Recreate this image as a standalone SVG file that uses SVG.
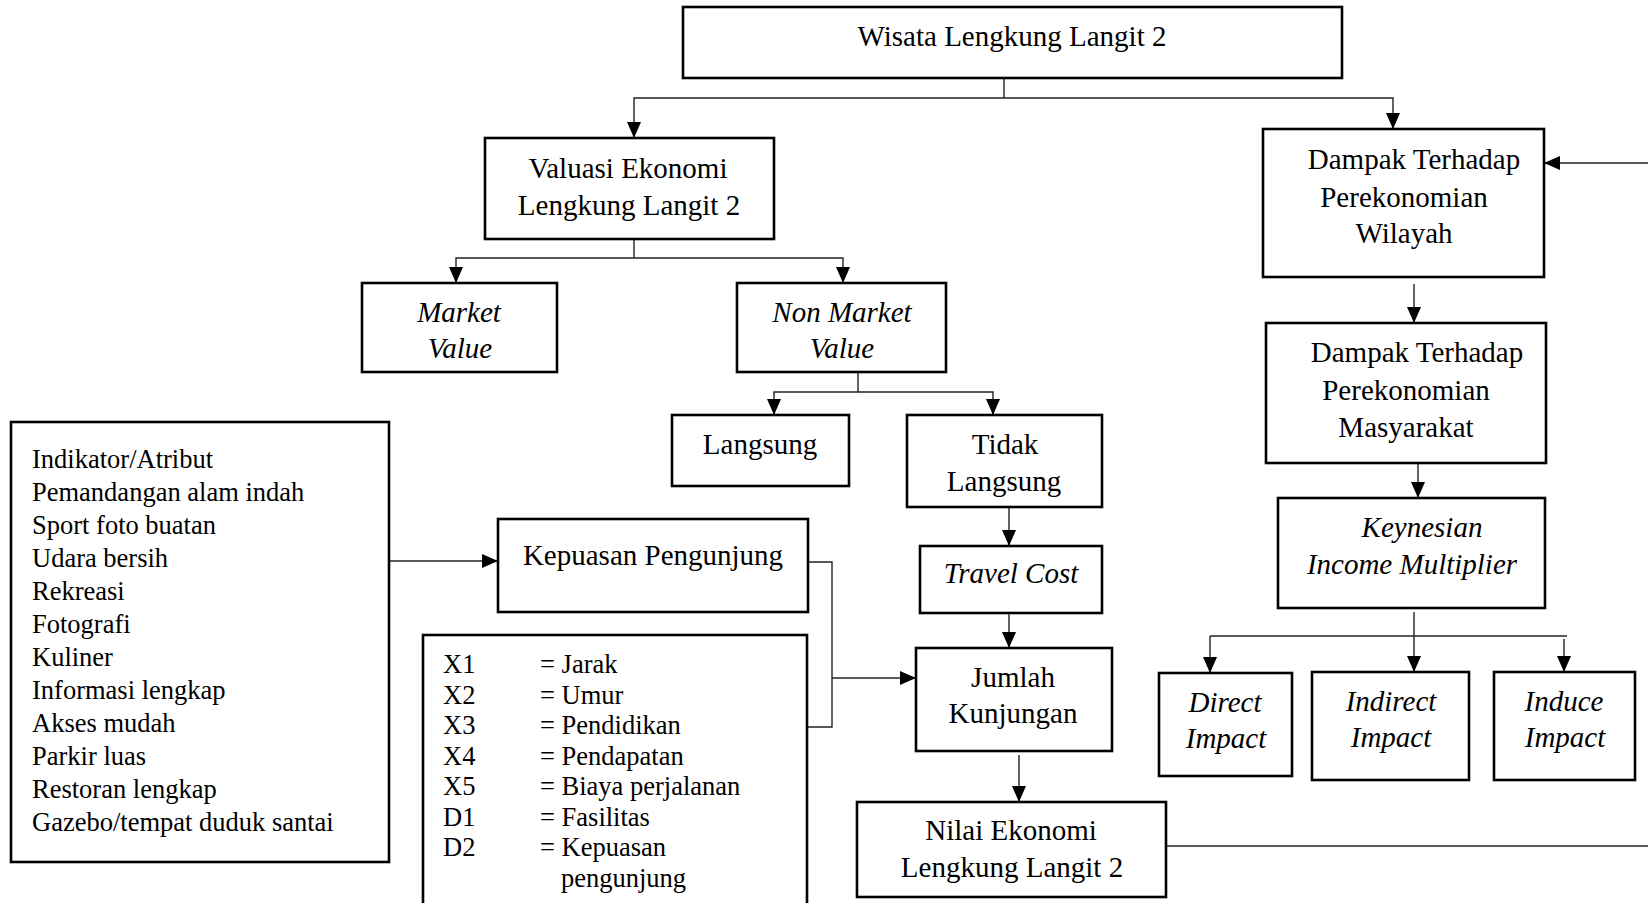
<svg xmlns="http://www.w3.org/2000/svg" width="1648" height="903" viewBox="0 0 1648 903">
<style>
.box{fill:#fff;stroke:#000;stroke-width:2.6}
.t{font-family:"Liberation Serif","Times New Roman",serif;font-size:29px;fill:#000;text-anchor:middle}
.i{font-style:italic}
.s{font-family:"Liberation Serif","Times New Roman",serif;font-size:26.5px;fill:#000}
.c{fill:none;stroke:#222;stroke-width:1.4}
.a{marker-end:url(#arr)}
</style>
<defs>
<marker id="arr" viewBox="0 0 16 14" refX="16" refY="7" markerWidth="16" markerHeight="14" markerUnits="userSpaceOnUse" orient="auto">
<path d="M0,0 L16,7 L0,14 z" fill="#000"/>
</marker>
</defs>
<rect width="1648" height="903" fill="#fff"/>
<g id="connectors">
<path class="c" d="M1004,78 V98"/>
<path class="c a" d="M1004,98 H634 V138"/>
<path class="c a" d="M1004,98 H1393 V129"/>
<path class="c" d="M634,239 V258"/>
<path class="c a" d="M634,258 H456 V283"/>
<path class="c a" d="M634,258 H843 V283"/>
<path class="c a" d="M858,372 V392 H774 V415"/>
<path class="c a" d="M858,392 H993 V415"/>
<path class="c a" d="M1009,507 V546"/>
<path class="c a" d="M1009,613 V648"/>
<path class="c a" d="M1019,755 V802"/>
<path class="c a" d="M389,561 H498"/>
<path class="c" d="M808,562 H832 V727 H808"/>
<path class="c a" d="M832,678 H916"/>
<path class="c" d="M1166,846 H1648"/>
<path class="c a" d="M1648,163 H1544"/>
<path class="c a" d="M1414,284 V323"/>
<path class="c a" d="M1418,463 V498"/>
<path class="c a" d="M1414,612 V672"/>
<path class="c" d="M1210,636 H1567"/>
<path class="c a" d="M1210,636 V673"/>
<path class="c a" d="M1564,639 V672"/>
</g>
<g id="wisata">
<rect class="box" x="683" y="7" width="659" height="71"/>
<text class="t" x="1012" y="46">Wisata Lengkung Langit 2</text>
</g>
<g id="valuasi">
<rect class="box" x="485" y="138" width="289" height="101"/>
<text class="t" x="628" y="178">Valuasi Ekonomi</text>
<text class="t" x="629" y="215">Lengkung Langit 2</text>
</g>
<g id="market">
<rect class="box" x="362" y="283" width="195" height="89"/>
<text class="t i" x="459" y="322">Market</text>
<text class="t i" x="460" y="358">Value</text>
</g>
<g id="nonmarket">
<rect class="box" x="737" y="283" width="209" height="89"/>
<text class="t i" x="842" y="322">Non Market</text>
<text class="t i" x="842" y="358">Value</text>
</g>
<g id="langsung">
<rect class="box" x="672" y="415" width="177" height="71"/>
<text class="t" x="760" y="454">Langsung</text>
</g>
<g id="tidak">
<rect class="box" x="907" y="415" width="195" height="92"/>
<text class="t" x="1005" y="454">Tidak</text>
<text class="t" x="1004" y="491">Langsung</text>
</g>
<g id="travel">
<rect class="box" x="920" y="546" width="182" height="67"/>
<text class="t i" x="1011" y="583">Travel Cost</text>
</g>
<g id="jumlah">
<rect class="box" x="916" y="648" width="196" height="103"/>
<text class="t" x="1013" y="687">Jumlah</text>
<text class="t" x="1013" y="723">Kunjungan</text>
</g>
<g id="nilai">
<rect class="box" x="857" y="802" width="309" height="95"/>
<text class="t" x="1011" y="840">Nilai Ekonomi</text>
<text class="t" x="1012" y="877">Lengkung Langit 2</text>
</g>
<g id="indikator">
<rect class="box" x="11" y="422" width="378" height="440"/>
<text class="s" x="32" y="468">Indikator/Atribut</text>
<text class="s" x="32" y="501">Pemandangan alam indah</text>
<text class="s" x="32" y="534">Sport foto buatan</text>
<text class="s" x="32" y="567">Udara bersih</text>
<text class="s" x="32" y="600">Rekreasi</text>
<text class="s" x="32" y="633">Fotografi</text>
<text class="s" x="32" y="666">Kuliner</text>
<text class="s" x="32" y="699">Informasi lengkap</text>
<text class="s" x="32" y="732">Akses mudah</text>
<text class="s" x="32" y="765">Parkir luas</text>
<text class="s" x="32" y="798">Restoran lengkap</text>
<text class="s" x="32" y="831">Gazebo/tempat duduk santai</text>
</g>
<g id="kepuasan">
<rect class="box" x="498" y="519" width="310" height="93"/>
<text class="t" x="653" y="565">Kepuasan Pengunjung</text>
</g>
<g id="variabel">
<rect class="box" x="423" y="635" width="384" height="290"/>
<text class="s" x="443" y="673">X1</text><text class="s" x="540" y="673">= Jarak</text>
<text class="s" x="443" y="703.5">X2</text><text class="s" x="540" y="703.5">= Umur</text>
<text class="s" x="443" y="734">X3</text><text class="s" x="540" y="734">= Pendidikan</text>
<text class="s" x="443" y="764.5">X4</text><text class="s" x="540" y="764.5">= Pendapatan</text>
<text class="s" x="443" y="795">X5</text><text class="s" x="540" y="795">= Biaya perjalanan</text>
<text class="s" x="443" y="825.5">D1</text><text class="s" x="540" y="825.5">= Fasilitas</text>
<text class="s" x="443" y="856">D2</text><text class="s" x="540" y="856">= Kepuasan</text>
<text class="s" x="561" y="886.5">pengunjung</text>
</g>
<g id="wilayah">
<rect class="box" x="1263" y="129" width="281" height="148"/>
<text class="t" x="1414" y="169">Dampak Terhadap</text>
<text class="t" x="1404" y="207">Perekonomian</text>
<text class="t" x="1404" y="243">Wilayah</text>
</g>
<g id="masyarakat">
<rect class="box" x="1266" y="323" width="280" height="140"/>
<text class="t" x="1417" y="362">Dampak Terhadap</text>
<text class="t" x="1406" y="400">Perekonomian</text>
<text class="t" x="1406" y="437">Masyarakat</text>
</g>
<g id="keynesian">
<rect class="box" x="1278" y="498" width="267" height="110"/>
<text class="t i" x="1422" y="537">Keynesian</text>
<text class="t i" x="1412" y="574">Income Multiplier</text>
</g>
<g id="direct">
<rect class="box" x="1159" y="673" width="133" height="103"/>
<text class="t i" x="1225" y="712">Direct</text>
<text class="t i" x="1226" y="748">Impact</text>
</g>
<g id="indirect">
<rect class="box" x="1312" y="672" width="157" height="108"/>
<text class="t i" x="1391" y="711">Indirect</text>
<text class="t i" x="1391" y="747">Impact</text>
</g>
<g id="induce">
<rect class="box" x="1494" y="672" width="141" height="108"/>
<text class="t i" x="1564" y="711">Induce</text>
<text class="t i" x="1565" y="747">Impact</text>
</g>
</svg>
